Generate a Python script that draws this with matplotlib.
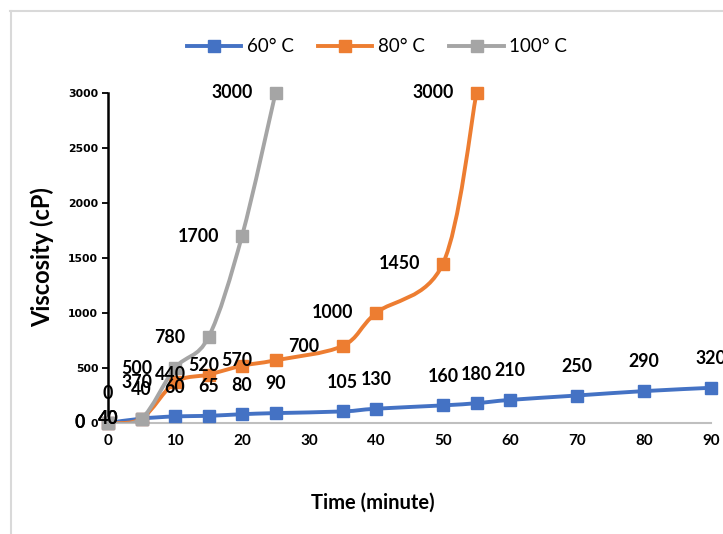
import numpy as np
import matplotlib as mpl
mpl.use('Agg')
import matplotlib.pyplot as plt
from matplotlib.path import Path
from matplotlib.patches import PathPatch
from matplotlib.lines import Line2D

plt.rcParams['font.family'] = ['Lato', 'DejaVu Sans']

# viscosity (cP) against time (minute) for three temperatures
t60 = [0, 5, 10, 15, 20, 25, 35, 40, 50, 55, 60, 70, 80, 90]
v60 = [0, 40, 60, 65, 80, 90, 105, 130, 160, 180, 210, 250, 290, 320]
t80 = [0, 5, 10, 15, 20, 25, 35, 40, 50, 55]
v80 = [0, 40, 370, 440, 520, 570, 700, 1000, 1450, 3000]
t100 = [0, 5, 10, 15, 20, 25]
v100 = [0, 40, 500, 780, 1700, 3000]

labels = ['60° C', '80° C', '100° C']
colors = ['#4472C4', '#ED7D31', '#A5A5A5']
xticks = [0, 10, 20, 30, 40, 50, 60, 70, 80, 90]
yticks = [0, 500, 1000, 1500, 2000, 2500, 3000]


def smooth_path(x, y):
    # cubic bezier through every point, spreadsheet-style smoothed line
    x = np.asarray(x, float)
    y = np.asarray(y, float)
    n = len(x)
    verts = [(x[0], y[0])]
    codes = [Path.MOVETO]
    for i in range(n - 1):
        i0 = max(i - 1, 0)
        i3 = min(i + 2, n - 1)
        c1 = (x[i] + (x[i + 1] - x[i0]) / 6, y[i] + (y[i + 1] - y[i0]) / 6)
        c2 = (x[i + 1] - (x[i3] - x[i]) / 6, y[i + 1] - (y[i3] - y[i]) / 6)
        verts += [c1, c2, (x[i + 1], y[i + 1])]
        codes += [Path.CURVE4] * 3
    return Path(verts, codes)


fig = plt.figure(figsize=(7.23, 5.34), dpi=100)
ax = fig.add_axes([108 / 723, 1 - 423 / 534, 603 / 723, 330 / 534])
ax.patch.set_alpha(0)

series = [(t60, v60), (t80, v80), (t100, v100)]
for k, (t, v) in enumerate(series):
    ax.add_patch(PathPatch(smooth_path(t, v), fill=False, edgecolor=colors[k],
                           lw=2.8, zorder=2 + k, capstyle='round'))
    ax.plot(t, v, linestyle='none', marker='s', markersize=8.5,
            color=colors[k], zorder=2.5 + k, clip_on=False)

lab_font = dict(fontsize=12.8, fontweight='bold', color='black', zorder=10)
# 60 C values sit above the points
for t, v in zip(t60, v60):
    ax.annotate(str(v), (t, v), xytext=(0, 21), textcoords='offset points',
                ha='center', va='center', **lab_font)
# 80 C and 100 C values sit to the left
for t, v in zip(t80 + t100, v80 + v100):
    ax.annotate(str(v), (t, v), xytext=(-16.5, 0), textcoords='offset points',
                ha='right', va='center', **lab_font)

ax.set_xlim(0, 90)
ax.set_ylim(0, 3000)
ax.set_xticks(xticks)
ax.set_yticks(yticks)
ax.set_xticklabels([str(x) for x in xticks], fontsize=11, fontweight='bold')
ax.set_yticklabels([str(y) for y in yticks], fontsize=7.8, fontweight='bold',
                   family='DejaVu Sans')
ax.tick_params(axis='x', length=0, pad=8)
ax.tick_params(axis='y', length=4, width=1.3, direction='out', pad=3)

for s in ['top', 'right']:
    ax.spines[s].set_visible(False)
ax.spines['left'].set_color('black')
ax.spines['left'].set_linewidth(1.8)
ax.spines['bottom'].set_color('#BFBFBF')
ax.spines['bottom'].set_linewidth(1.5)
ax.spines['left'].set_zorder(1)
ax.spines['bottom'].set_zorder(1)

fig.text(42 / 723, 1 - 257 / 534, 'Viscosity (cP)', rotation=90, fontsize=17,
         fontweight='bold', ha='center', va='center')
fig.text(373 / 723, 1 - 503 / 534, 'Time (minute)', fontsize=14.5,
         fontweight='bold', ha='center', va='center')

handles = [Line2D([], [], color=c, lw=2.8, marker='s', markersize=8.5) for c in colors]
fig.legend(handles, labels, loc='center', bbox_to_anchor=(377 / 723, 1 - 47 / 534),
           ncol=3, frameon=False, fontsize=13.5, handlelength=2.9,
           handletextpad=0.3, columnspacing=1.3)

# chart area edge
fig.add_artist(Line2D([10.5 / 723, 10.5 / 723], [0, 1 - 11 / 534],
                      transform=fig.transFigure, color='#D9D9D9', lw=1.5))
fig.add_artist(Line2D([10 / 723, 1], [1 - 11 / 534, 1 - 11 / 534],
                      transform=fig.transFigure, color='#D9D9D9', lw=1.5))

fig.savefig('out.png', dpi=100)
plt.close()
